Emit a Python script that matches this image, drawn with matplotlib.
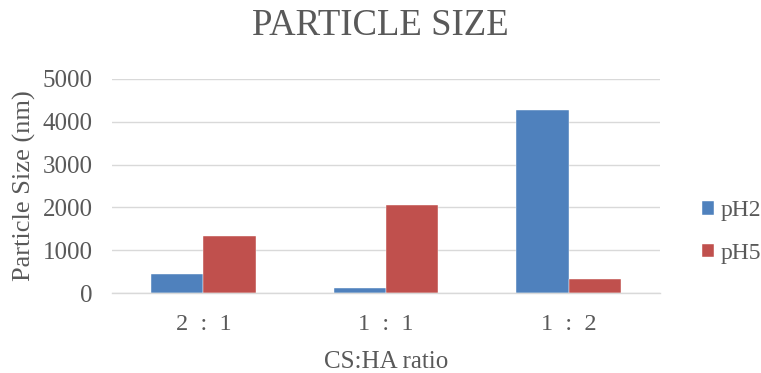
import matplotlib
matplotlib.use("Agg")
import matplotlib.pyplot as plt
import numpy as np

categories = ["2  :  1", "1  :  1", "1  :  2"]
series_names = ["pH2", "pH5"]
ph2_values = [435, 124, 4270]
ph5_values = [1337, 2053, 327]
y_ticks = [0, 1000, 2000, 3000, 4000, 5000]

colors = ["#4F81BD", "#C0504D"]
text_color = "#595959"
grid_color = "#D9D9D9"

plt.rcParams["font.family"] = ["Liberation Serif", "DejaVu Serif"]

fig = plt.figure(figsize=(7.61, 3.73), dpi=100)
ax = fig.add_axes([112 / 761, 80 / 373, 548 / 761, 214 / 373])

x = np.arange(len(categories))
width = 0.286
for i, (vals, name) in enumerate(zip([ph2_values, ph5_values], series_names)):
    ax.bar(x + (i - 0.5) * width, vals, width, color=colors[i], label=name,
           edgecolor="white", linewidth=0.3, zorder=3)

ax.set_xlim(-0.5, len(categories) - 0.5)
ax.set_ylim(0, 5000)
ax.set_yticks(y_ticks)
ax.set_yticklabels([str(v) for v in y_ticks])
ax.set_xticks(x)
ax.set_xticklabels(categories)
ax.tick_params(axis="both", length=0, labelsize=18, colors=text_color)
ax.tick_params(axis="x", labelsize=17.5)
ax.tick_params(axis="y", pad=14)
ax.tick_params(axis="x", pad=15)

ax.grid(axis="y", color=grid_color, linewidth=1, zorder=0)
for side in ["top", "right", "left"]:
    ax.spines[side].set_visible(False)
ax.spines["bottom"].set_color(grid_color)
ax.spines["bottom"].set_linewidth(1)
ax.spines["bottom"].set_zorder(4)

ax.set_xlabel("CS:HA ratio", fontsize=18, color=text_color, labelpad=12)
ax.set_ylabel("Particle Size (nm)", fontsize=19, color=text_color, labelpad=5)

fig.text(380 / 761, 1 - 26 / 373, "PARTICLE SIZE", ha="center", va="center",
         fontsize=26.5, color=text_color)

ax.legend(loc="center left", bbox_to_anchor=(702 / 761, 1 - 232 / 373),
          bbox_transform=fig.transFigure, frameon=False, borderpad=0,
          borderaxespad=0, fontsize=17, labelcolor=text_color,
          handlelength=0.5, handleheight=0.5, handletextpad=0.3,
          labelspacing=0.9)

fig.savefig("out.png", dpi=100)
